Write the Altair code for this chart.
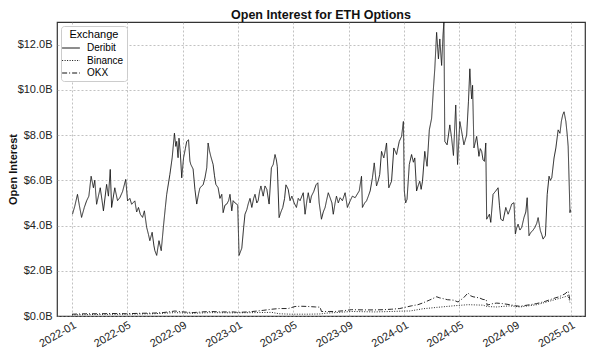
import altair as alt
import pandas as pd

# days since 2022-01-01 and open interest in billions USD
deribit_day = [1, 6, 12, 16, 21, 27, 32, 37, 42, 47, 50, 54, 62, 66, 69, 76, 80, 84, 87, 94,
               100, 105, 111, 118, 122, 127, 131, 138, 142, 146, 150, 155, 159, 164, 168, 171, 176, 180, 182, 186,
               191, 196, 201, 205, 208, 215, 220, 225, 228, 230, 233, 235, 238, 241, 245, 249, 252, 256, 259, 261,
               266, 270, 274, 278, 281, 288, 292, 296, 299, 302, 305, 310, 313, 316, 321, 325, 329, 332, 336, 340,
               344, 347, 351, 354, 358, 362, 364, 367, 373, 377, 380, 384, 387, 391, 395, 399, 402, 406, 409, 412,
               415, 420, 424, 428, 433, 438, 442, 446, 449, 451, 455, 459, 463, 467, 470, 475, 479, 483, 488, 493,
               497, 501, 505, 508, 512, 516, 519, 523, 526, 531, 536, 540, 543, 548, 552, 556, 559, 563, 567, 571,
               574, 578, 581, 585, 589, 594, 600, 605, 611, 616, 622, 627, 631, 636, 638, 643, 647, 651, 655, 660,
               664, 669, 673, 676, 680, 685, 688, 691, 696, 702, 707, 713, 719, 724, 728, 730, 733, 736, 741, 746,
               750, 753, 757, 761, 764, 767, 770, 775, 780, 785, 790, 794, 797, 801, 805, 808, 812, 815, 817, 819,
               824, 827, 830, 834, 838, 843, 847, 852, 856, 861, 867, 871, 874, 876, 878, 880, 883, 889, 894, 897,
               900, 903, 906, 909, 911, 917, 920, 925, 931, 936, 939, 942, 947, 953, 958, 962, 966, 971, 974, 977,
               980, 984, 988, 993, 997, 1000, 1004, 1008, 1012, 1017, 1021, 1024, 1029, 1032, 1035, 1040, 1044, 1048, 1051, 1054,
               1059, 1063, 1068, 1072, 1075, 1078, 1081, 1085, 1088, 1090, 1094, 1095]
deribit_oi = [4.50, 4.85, 5.38, 4.90, 4.36, 4.80, 5.09, 5.30, 6.18, 5.67, 6.00, 4.94, 5.67, 5.10, 4.65, 5.82, 5.30, 6.48, 4.80, 5.67,
              5.10, 5.23, 5.50, 6.04, 5.09, 5.20, 4.94, 5.09, 4.60, 4.80, 4.50, 4.36, 4.65, 3.92, 3.60, 3.33, 3.70, 3.10, 2.89, 2.68,
              3.33, 2.89, 3.99, 4.80, 5.38, 6.26, 6.99, 8.08, 7.50, 7.72, 7.00, 7.86, 7.20, 6.11, 6.99, 7.40, 7.72, 7.79, 6.85, 6.70,
              6.50, 5.60, 4.95, 5.40, 5.67, 5.80, 6.10, 6.55, 7.65, 7.30, 7.05, 6.70, 6.20, 5.82, 5.67, 5.20, 5.38, 4.57, 4.90, 4.95,
              5.10, 5.38, 4.65, 5.10, 5.00, 4.95, 4.90, 2.68, 3.00, 3.90, 4.50, 4.70, 4.95, 5.20, 4.80, 5.20, 5.38, 5.00, 5.10, 5.50,
              5.75, 5.30, 5.75, 5.60, 4.95, 6.55, 6.70, 7.14, 6.90, 6.60, 4.35, 4.60, 4.80, 5.20, 5.80, 5.60, 5.10, 5.30, 5.00, 4.80,
              5.20, 5.10, 5.30, 5.45, 4.50, 5.10, 5.45, 5.00, 5.30, 5.50, 5.80, 5.89, 5.00, 4.28, 4.60, 4.80, 5.09, 5.45, 5.23, 5.00,
              4.50, 5.00, 5.30, 5.00, 5.23, 5.10, 5.45, 4.80, 5.09, 5.30, 5.23, 5.40, 5.53, 6.18, 4.80, 5.00, 5.09, 5.30, 5.53, 6.11,
              6.77, 5.75, 6.00, 6.26, 7.28, 6.99, 7.30, 7.65, 5.67, 5.96, 7.43, 7.14, 7.72, 7.94, 8.60, 5.53, 5.00, 5.16, 6.70, 7.14,
              6.80, 6.99, 5.53, 5.80, 5.96, 5.60, 5.96, 7.28, 6.62, 8.23, 8.74, 10.06, 10.93, 12.54, 11.37, 12.25, 11.08, 12.40, 13.00, 7.72,
              7.57, 8.00, 8.45, 7.86, 7.10, 9.33, 6.70, 8.60, 8.16, 7.57, 8.00, 9.50, 10.93, 10.20, 9.60, 10.20, 7.43, 7.94, 7.06, 7.40,
              7.28, 6.90, 6.84, 7.65, 4.28, 4.50, 4.14, 5.38, 5.53, 5.67, 4.90, 4.28, 4.21, 4.80, 4.50, 4.70, 4.95, 5.01, 3.63, 3.90,
              4.06, 3.80, 3.92, 4.36, 4.60, 5.23, 3.55, 3.70, 3.77, 3.92, 4.10, 4.35, 3.77, 3.60, 3.40, 3.55, 5.38, 6.18, 6.00, 6.11,
              6.99, 7.43, 8.23, 8.08, 8.60, 8.89, 9.03, 8.60, 8.00, 7.50, 4.57, 4.70]

okx_day = [0, 30, 60, 90, 120, 150, 180, 200, 226, 245, 266, 285, 303, 330, 354, 365, 385, 402, 420, 439,
           455, 475, 490, 505, 519, 535, 545, 548, 565, 578, 595, 614, 640, 665, 685, 702, 720, 731, 746, 760,
           771, 785, 801, 808, 815, 825, 838, 848, 860, 870, 875, 881, 895, 903, 910, 912, 925, 933, 945, 962,
           975, 984, 1000, 1021, 1040, 1057, 1070, 1083, 1090, 1094]
okx_oi = [0.08, 0.10, 0.10, 0.11, 0.10, 0.12, 0.13, 0.15, 0.22, 0.18, 0.15, 0.18, 0.20, 0.18, 0.18, 0.16, 0.18, 0.21, 0.25, 0.30,
          0.33, 0.33, 0.42, 0.43, 0.42, 0.40, 0.39, 0.20, 0.20, 0.20, 0.23, 0.28, 0.27, 0.27, 0.28, 0.30, 0.33, 0.38, 0.45, 0.50,
          0.58, 0.70, 0.85, 0.80, 0.77, 0.72, 0.70, 0.62, 0.80, 1.02, 0.90, 0.85, 0.80, 0.73, 0.72, 0.48, 0.55, 0.57, 0.55, 0.50,
          0.45, 0.43, 0.48, 0.55, 0.65, 0.77, 0.85, 0.98, 1.10, 0.70]

binance_day = [0, 60, 120, 180, 226, 266, 303, 354, 402, 439, 455, 480, 519, 545, 560, 578, 614, 665, 702, 731,
               742, 771, 801, 838, 870, 903, 912, 933, 962, 984, 1021, 1057, 1083, 1090, 1094]
binance_oi = [0.05, 0.07, 0.08, 0.10, 0.15, 0.12, 0.15, 0.14, 0.15, 0.16, 0.10, 0.08, 0.08, 0.09, 0.13, 0.15, 0.20, 0.18, 0.20, 0.22,
              0.22, 0.32, 0.38, 0.45, 0.50, 0.48, 0.42, 0.40, 0.45, 0.40, 0.50, 0.70, 0.85, 0.90, 0.60]

exchanges = ["Deribit", "Binance", "OKX"]
y_ticks = [0, 2e9, 4e9, 6e9, 8e9, 10e9, 12e9]
x_tick_months = [(2022, 1), (2022, 5), (2022, 9), (2023, 1), (2023, 5), (2023, 9),
                 (2024, 1), (2024, 5), (2024, 9), (2025, 1)]

base = pd.Timestamp("2022-01-01")


def frame(days, vals, name):
    return pd.DataFrame({
        "date": [(base + pd.Timedelta(days=d)).strftime("%Y-%m-%d") for d in days],
        "oi": [v * 1e9 for v in vals],
        "Exchange": name,
    })


df = pd.concat([
    frame(okx_day, okx_oi, "OKX"),
    frame(binance_day, binance_oi, "Binance"),
    frame(deribit_day, deribit_oi, "Deribit"),
], ignore_index=True)

FONT = "Liberation Sans"

chart = alt.Chart(df).mark_line(strokeWidth=0.9, color="#111111", clip=True).encode(
    x=alt.X(
        "date:T",
        scale=alt.Scale(type="utc", domain=[alt.DateTime(year=2021, month=11, date=29, utc=True),
                                            alt.DateTime(year=2025, month=2, date=1, utc=True)]),
        axis=alt.Axis(
            values=[alt.DateTime(year=y, month=m, date=1, utc=True) for y, m in x_tick_months],
            format="%Y-%m", labelAngle=-30, labelAlign="right", labelBaseline="top",
            labelPadding=3, title=None,
        ),
    ),
    y=alt.Y(
        "oi:Q",
        scale=alt.Scale(domain=[0, 13e9], nice=False),
        axis=alt.Axis(
            values=y_ticks,
            labelExpr="'$' + format(datum.value / 1e9, '.1f') + 'B'",
            labelPadding=5,
            title="Open Interest", titleFontWeight="bold", titleFontSize=11,
            titleX=-39, titleY=147, titleAngle=270, titleBaseline="bottom",
        ),
    ),
    strokeDash=alt.StrokeDash(
        "Exchange:N",
        sort=exchanges,
        scale=alt.Scale(domain=exchanges, range=[[1, 0], [1, 1.5], [5, 2, 1, 2]]),
        legend=alt.Legend(
            orient="top-left", offset=4, title="Exchange", titleAnchor="middle",
            titleFontSize=11, titleFontWeight="normal", titleFont=FONT, titlePadding=1,
            labelFontSize=10, labelFont=FONT, labelOffset=9,
            symbolType="M-1.45,0H1.45", symbolSize=150, symbolStrokeWidth=1,
            symbolStrokeColor="#111111", symbolFillColor="transparent",
            rowPadding=0.5, padding=3, strokeColor="#cccccc", fillColor="white", cornerRadius=3,
        ),
    ),
).properties(
    width=528, height=294,
    title=alt.TitleParams("Open Interest for ETH Options", font=FONT, fontSize=12.5,
                          fontWeight="bold", offset=1, color="#111111"),
    autosize=alt.AutoSizeParams(type="none"),
    padding={"left": 49, "top": 14, "right": 2, "bottom": 32},
).configure_view(
    stroke="#333333", strokeWidth=1.2,
).configure_axis(
    grid=True, gridColor="#999999", gridDash=[2, 2], gridWidth=0.6,
    domain=False, ticks=False, tickSize=0,
    labelFont=FONT, labelFontSize=11, labelColor="#222222",
    titleFont=FONT, titleColor="#111111",
)

chart.save("out.html", embed_options={"renderer": "svg", "actions": False})
